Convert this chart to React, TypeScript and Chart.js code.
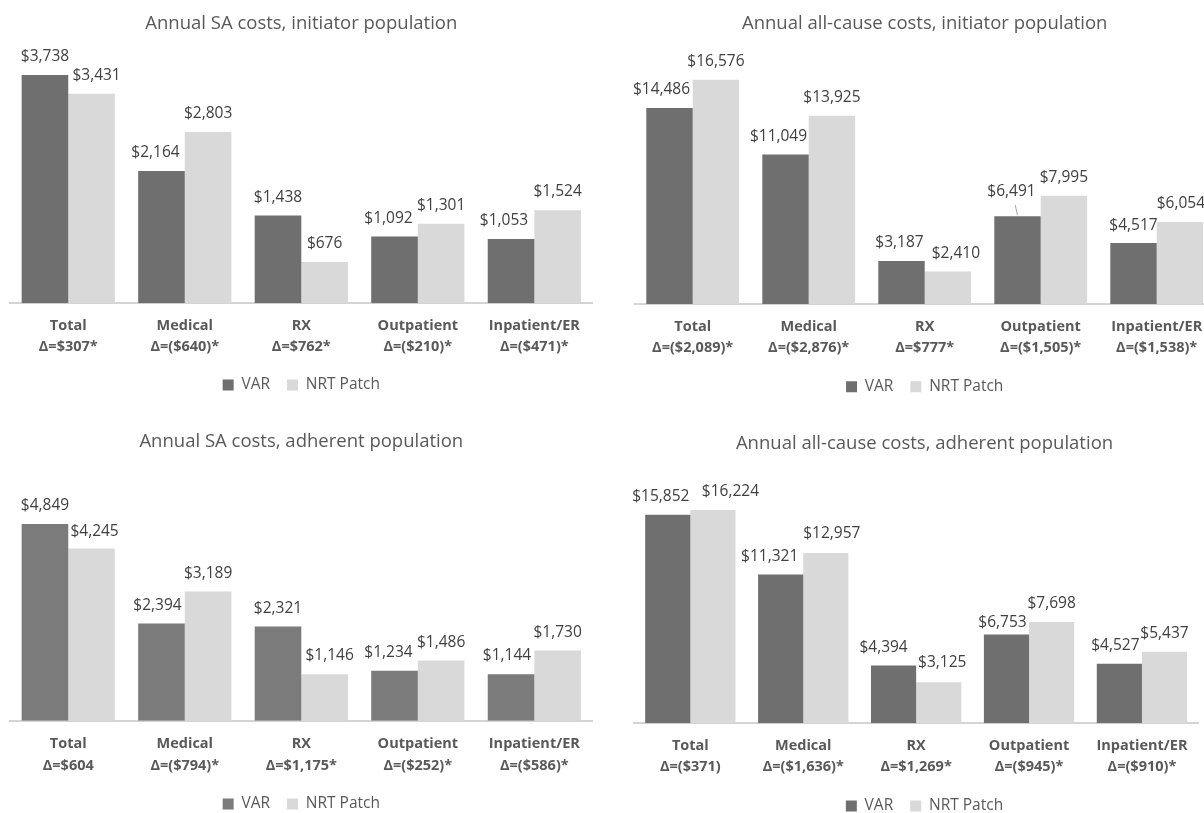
import React, { useEffect, useRef } from "react";
import { Chart, registerables } from "chart.js";

Chart.register(...registerables);

const FONT = "'Open Sans', 'Noto Sans', sans-serif";

// ---------- data ----------
const categories = ["Total", "Medical", "RX", "Outpatient", "Inpatient/ER"];
const seriesNames = ["VAR", "NRT Patch"];

const saInitiatorTitle = "Annual SA costs, initiator population";
const saInitiatorVAR = [3738, 2164, 1438, 1092, 1053];
const saInitiatorNRT = [3431, 2803, 676, 1301, 1524];
const saInitiatorDelta = ["Δ=$307*", "Δ=($640)*", "Δ=$762*", "Δ=($210)*", "Δ=($471)*"];
const saInitiatorMax = 4000;

const allInitiatorTitle = "Annual all-cause costs, initiator population";
const allInitiatorVAR = [14486, 11049, 3187, 6491, 4517];
const allInitiatorNRT = [16576, 13925, 2410, 7995, 6054];
const allInitiatorDelta = ["Δ=($2,089)*", "Δ=($2,876)*", "Δ=$777*", "Δ=($1,505)*", "Δ=($1,538)*"];
const allInitiatorMax = 18000;

const saAdherentTitle = "Annual SA costs, adherent population";
const saAdherentVAR = [4849, 2394, 2321, 1234, 1144];
const saAdherentNRT = [4245, 3189, 1146, 1486, 1730];
const saAdherentDelta = ["Δ=$604", "Δ=($794)*", "Δ=$1,175*", "Δ=($252)*", "Δ=($586)*"];
const saAdherentMax = 6000;

const allAdherentTitle = "Annual all-cause costs, adherent population";
const allAdherentVAR = [15852, 11321, 4394, 6753, 4527];
const allAdherentNRT = [16224, 12957, 3125, 7698, 5437];
const allAdherentDelta = ["Δ=($371)", "Δ=($1,636)*", "Δ=$1,269*", "Δ=($945)*", "Δ=($910)*"];
const allAdherentMax = 18000;

// ---------- label placement tweaks (Excel-moved labels) ----------
const tlShiftX = [[0, -6, 0, -6, -7], [5, 0, 0, 0, 0]];
const tlShiftY = [[0, 0, 0, 0, 0], [0, 0, 0, 0, 0]];
const trShiftX = [[-8, -7, -2, -6, 0], [0, 0, 8, 0, 1]];
const trShiftY = [[0, 0, 0, -6, 1], [0, 0, 0, 0, 0]];
const trLeaders = [[false, false, false, true, false], [false, false, false, false, false]];
const blShiftX = [[0, -4, 0, -6, -4], [3, 0, 5, 0, 0]];
const blShiftY = [[0, 0, 0, 0, 0], [1, 0, 0, 0, 0]];
const brShiftX = [[-7, -11, -10, -4, -4], [17.5, 6, 3.5, 0, 0]];
const brShiftY = [[0, 0, 0, 6, 0], [0, -1, -1.5, 0, 0]];

const VAR_DARK = "#6f6f6f";
const VAR_MID = "#7b7b7b";
const NRT_LIGHT = "#d9d9d9";

type Panel = {
  title: string;
  varData: number[];
  nrtData: number[];
  deltas: string[];
  max: number;
  varColor: string;
  left: number;
  top: number;
  w: number;
  h: number;
  padL: number;
  padR: number;
  padB: number;
  titleTop: number;
  titleBottom: number;
  tickPad: number;
  xHeight: number;
  yWidth: number;
  shiftX: number[][];
  shiftY: number[][];
  leaders?: boolean[][];
};

const panels: Panel[] = [
  {
    title: saInitiatorTitle, varData: saInitiatorVAR, nrtData: saInitiatorNRT, deltas: saInitiatorDelta,
    max: saInitiatorMax, varColor: VAR_DARK,
    left: 0, top: 0, w: 602, h: 403, padL: 10, padR: 9.4, padB: 0.25,
    titleTop: 12.9, titleBottom: 23.8, tickPad: 11.4, xHeight: 56.95, yWidth: 0,
    shiftX: tlShiftX, shiftY: tlShiftY,
  },
  {
    title: allInitiatorTitle, varData: allInitiatorVAR, nrtData: allInitiatorNRT, deltas: allInitiatorDelta,
    max: allInitiatorMax, varColor: VAR_DARK,
    left: 623, top: 0, w: 602, h: 405, padL: 11.7, padR: 10.3, padB: 0.55,
    titleTop: 12.9, titleBottom: 25.4, tickPad: 11.9, xHeight: 57.95, yWidth: 0,
    shiftX: trShiftX, shiftY: trShiftY, leaders: trLeaders,
  },
  {
    title: saAdherentTitle, varData: saAdherentVAR, nrtData: saAdherentNRT, deltas: saAdherentDelta,
    max: saAdherentMax, varColor: VAR_MID,
    left: 0, top: 400, w: 602, h: 422, padL: 10, padR: 9.4, padB: 0.25,
    titleTop: 30.6, titleBottom: 24.6, tickPad: 12.8, xHeight: 58.55, yWidth: 0,
    shiftX: blShiftX, shiftY: blShiftY,
  },
  {
    title: allAdherentTitle, varData: allAdherentVAR, nrtData: allAdherentNRT, deltas: allAdherentDelta,
    max: allAdherentMax, varColor: VAR_DARK,
    left: 623, top: 400, w: 602, h: 424, padL: 10.9, padR: 9.9, padB: 0.25,
    titleTop: 32.2, titleBottom: 32.2, tickPad: 11.6, xHeight: 57.95, yWidth: 16.7,
    shiftX: brShiftX, shiftY: brShiftY,
  },
];

function makeLabelPlugin(p: Panel) {
  return {
    id: "barValueLabels",
    afterDatasetsDraw(chart: any) {
      const ctx = chart.ctx;
      ctx.save();
      ctx.font = `15.5px ${FONT}`;
      ctx.fillStyle = "#404040";
      ctx.textAlign = "center";
      ctx.textBaseline = "middle";
      chart.data.datasets.forEach((ds: any, di: number) => {
        const meta = chart.getDatasetMeta(di);
        meta.data.forEach((bar: any, i: number) => {
          const v = ds.data[i] as number;
          const x = bar.x + (p.shiftX[di]?.[i] ?? 0);
          const y = bar.y - 18.3 + (p.shiftY[di]?.[i] ?? 0);
          ctx.fillText("$" + v.toLocaleString("en-US"), x, y);
          if (p.leaders && p.leaders[di]?.[i]) {
            ctx.save();
            ctx.strokeStyle = "#a6a6a6";
            ctx.lineWidth = 1;
            ctx.beginPath();
            ctx.moveTo(x + 3.7, y + 13);
            ctx.lineTo(bar.x, bar.y - 1);
            ctx.stroke();
            ctx.restore();
          }
        });
      });
      ctx.restore();
    },
  };
}

function makeConfig(p: Panel): any {
  return {
    type: "bar",
    data: {
      labels: categories.map((c, i) => [c, p.deltas[i]]),
      datasets: [
        {
          label: seriesNames[0],
          data: p.varData,
          backgroundColor: p.varColor,
          borderWidth: 0,
          categoryPercentage: 0.8,
          barPercentage: 1.0,
        },
        {
          label: seriesNames[1],
          data: p.nrtData,
          backgroundColor: NRT_LIGHT,
          borderWidth: 0,
          categoryPercentage: 0.8,
          barPercentage: 1.0,
        },
      ],
    },
    options: {
      responsive: false,
      maintainAspectRatio: false,
      animation: false,
      devicePixelRatio: 1,
      layout: { padding: { left: p.padL, right: p.padR, top: 0, bottom: p.padB } },
      scales: {
        x: {
          grid: { display: false, drawTicks: false },
          border: { display: true, color: "#d4d4d4", width: 2 },
          ticks: {
            color: "#595959",
            font: { family: FONT, size: 14.5, weight: "bold", lineHeight: 1.49 },
            padding: p.tickPad,
            maxRotation: 0,
            minRotation: 0,
            autoSkip: false,
          },
          afterFit: (s: any) => {
            s.height = p.xHeight;
          },
        },
        y: {
          display: p.yWidth > 0,
          position: "right",
          min: 0,
          max: p.max,
          ticks: { display: false },
          grid: { display: false, drawTicks: false },
          border: { display: false },
          afterFit: (s: any) => {
            if (p.yWidth > 0) s.width = p.yWidth;
          },
        },
      },
      plugins: {
        title: {
          display: true,
          text: p.title,
          color: "#595959",
          font: { family: FONT, size: 18.5, weight: "normal", lineHeight: 1.2 },
          padding: { top: p.titleTop, bottom: p.titleBottom },
        },
        legend: {
          display: true,
          position: "bottom",
          labels: {
            boxWidth: 11,
            boxHeight: 11,
            padding: 17,
            color: "#595959",
            font: { family: FONT, size: 15.5 },
          },
        },
        tooltip: { enabled: false },
      },
    },
    plugins: [makeLabelPlugin(p)],
  };
}

export default function App() {
  const refs = useRef<(HTMLCanvasElement | null)[]>([]);

  useEffect(() => {
    const charts: Chart[] = [];
    panels.forEach((p, i) => {
      const el = refs.current[i];
      if (el) charts.push(new Chart(el, makeConfig(p)));
    });
    return () => {
      charts.forEach((c) => c.destroy());
    };
  }, []);

  return (
    <div
      style={{
        position: "fixed",
        left: 0,
        top: 0,
        width: 1204,
        height: 813,
        overflow: "hidden",
        background: "#ffffff",
      }}
    >
      {panels.map((p, i) => (
        <canvas
          key={i}
          ref={(el) => {
            refs.current[i] = el;
          }}
          width={p.w}
          height={p.h}
          style={{ position: "absolute", left: p.left, top: p.top, width: p.w, height: p.h }}
        />
      ))}
    </div>
  );
}
